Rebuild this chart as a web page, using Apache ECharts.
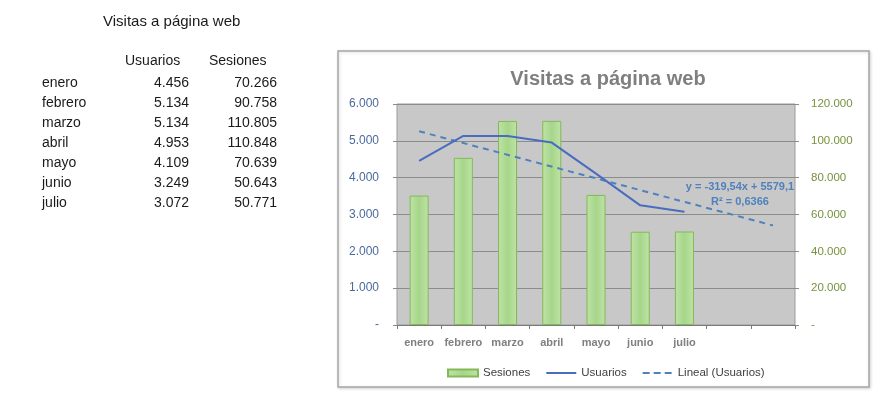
<!DOCTYPE html>
<html>
<head>
<meta charset="utf-8">
<script src="https://cdn.jsdelivr.net/npm/echarts@6/dist/echarts.min.js"></script>
<style>
html,body{margin:0;padding:0;background:#fff;}
#c{width:886px;height:401px;}
</style>
</head>
<body>
<div id="c"></div>
<script>
const title = 'Visitas a página web';
const months = ['enero','febrero','marzo','abril','mayo','junio','julio'];
const usuarios = [4456, 5134, 5134, 4953, 4109, 3249, 3072];
const sesiones = [70266, 90758, 110805, 110848, 70639, 50643, 50771];
const axisCategories = ['enero','febrero','marzo','abril','mayo','junio','julio','',' '];
// Excel linear trendline (y = -319,54x + 5579,1) shown from first to ninth category
const trendUsuarios = [5259.6, null, null, null, null, null, null, null, 2703.2];
const trendLabel = ['y = -319,54x + 5579,1', 'R² = 0,6366'];
const leftTicks = [0, 6000, 1000];
const rightTicks = [0, 120000, 20000];

function fmt(n){ return n === 0 ? '-' : String(n).replace(/\B(?=(\d{3})+(?!\d))/g, '.'); }

const FONT = 'Liberation Sans';
const tableGraphics = [];
tableGraphics.push({type:'text', left:103, top:14, z:10, style:{text:title, font:'15px "'+FONT+'"', fill:'#1a1a1a'}});
tableGraphics.push({type:'text', left:125, top:54, z:10, style:{text:'Usuarios', font:'14px "'+FONT+'"', fill:'#1a1a1a'}});
tableGraphics.push({type:'text', left:209, top:54, z:10, style:{text:'Sesiones', font:'14px "'+FONT+'"', fill:'#1a1a1a'}});
months.forEach((m,i)=>{
  const y = 83 + 20*i;
  tableGraphics.push({type:'text', x:42, y:y, z:10, style:{text:m, font:'14px "'+FONT+'"', fill:'#1a1a1a', textAlign:'left', textVerticalAlign:'middle'}});
  tableGraphics.push({type:'text', x:189, y:y, z:10, style:{text:fmt(usuarios[i]), font:'14px "'+FONT+'"', fill:'#1a1a1a', textAlign:'right', textVerticalAlign:'middle'}});
  tableGraphics.push({type:'text', x:277, y:y, z:10, style:{text:fmt(sesiones[i]), font:'14px "'+FONT+'"', fill:'#1a1a1a', textAlign:'right', textVerticalAlign:'middle'}});
});

const chart = echarts.init(document.getElementById('c'));
chart.setOption({
  animation:false,
  backgroundColor:'#fff',
  title:{text:title, left:603, top:64, textAlign:'center',
    textStyle:{fontFamily:FONT, fontSize:20, fontWeight:'bold', color:'#7f7f7f'}},
  grid:{left:397, right:91, top:104, bottom:76, show:true, backgroundColor:'#c8c8c8', borderColor:'#9a9a9a', borderWidth:1},
  legend:{left:442, top:362, itemWidth:30, itemHeight:7, itemGap:15,
    textStyle:{fontFamily:FONT, fontSize:11.5, color:'#404040'},
    data:[{name:'Sesiones', icon:'rect'},
          {name:'Usuarios', itemStyle:{opacity:0}},
          {name:'Lineal (Usuarios)', itemStyle:{opacity:0}, lineStyle:{type:[7,4]}}]},
  xAxis:{type:'category', data:axisCategories, boundaryGap:true,
    axisLine:{lineStyle:{color:'#7a7a7a'}},
    axisTick:{show:true, length:4, lineStyle:{color:'#7a7a7a'}},
    axisLabel:{margin:12, fontFamily:FONT, fontSize:11, fontWeight:'bold', color:'#7f7f7f', interval:0}},
  yAxis:[
    {type:'value', min:leftTicks[0], max:leftTicks[1], interval:leftTicks[2],
      axisLine:{show:false}, axisTick:{show:true, length:4, lineStyle:{color:'#8a8a8a'}},
      splitLine:{lineStyle:{color:'#8c8c8c', width:1}},
      axisLabel:{margin:18, formatter:fmt, fontFamily:FONT, fontSize:12, color:'#4a6a9e'}},
    {type:'value', min:rightTicks[0], max:rightTicks[1], interval:rightTicks[2],
      axisLine:{show:false}, axisTick:{show:true, length:4, lineStyle:{color:'#8a8a8a'}},
      splitLine:{show:false},
      axisLabel:{margin:16, formatter:fmt, fontFamily:FONT, fontSize:11.5, color:'#76923c'}}
  ],
  series:[
    {name:'Sesiones', type:'bar', yAxisIndex:1, data:sesiones, barWidth:19,
      itemStyle:{color:new echarts.graphic.LinearGradient(0,0,1,0,[
        {offset:0,color:'#bfe3a6'},{offset:0.5,color:'#a6d68a'},{offset:1,color:'#bfe3a6'}]),
        borderColor:'#84b858', borderWidth:1}},
    {name:'Usuarios', type:'line', yAxisIndex:0, data:usuarios, symbol:'none',
      lineStyle:{color:'#4a6cc0', width:2}, itemStyle:{color:'#4a6cc0'}, z:5},
    {name:'Lineal (Usuarios)', type:'line', yAxisIndex:0, data:trendUsuarios, connectNulls:true, symbol:'none',
      lineStyle:{color:'#4f81bd', width:2, type:[6,5]}, itemStyle:{color:'#4f81bd'}, z:4}
  ],
  graphic:[
    {type:'rect', z:-10, shape:{x:338, y:51, width:531, height:336},
      style:{fill:'#fff', stroke:'#a6a6a6', lineWidth:1.5, shadowBlur:3, shadowColor:'rgba(0,0,0,0.15)', shadowOffsetX:1, shadowOffsetY:1}},
    {type:'text', x:740, y:187, z:10, style:{text:trendLabel[0], font:'bold 11px "'+FONT+'"', fill:'#4f81bd', textAlign:'center', textVerticalAlign:'middle'}},
    {type:'text', x:740, y:202, z:10, style:{text:trendLabel[1], font:'bold 11px "'+FONT+'"', fill:'#4f81bd', textAlign:'center', textVerticalAlign:'middle'}}
  ].concat(tableGraphics)
});
</script>
</body>
</html>
